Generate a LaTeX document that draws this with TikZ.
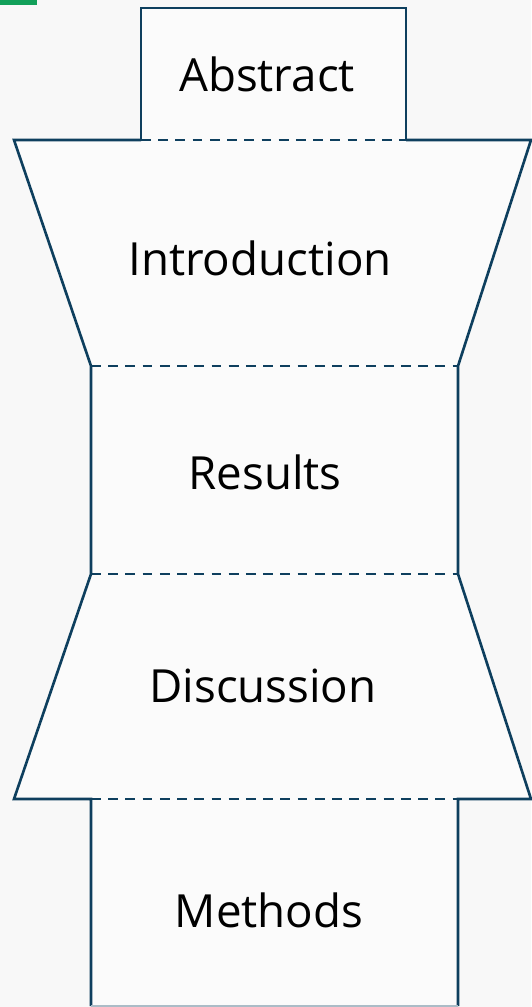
\documentclass[tikz,border=0pt]{standalone}
\usepackage{fontspec}
\setmainfont{Open Sans}
\definecolor{edgeblue}{HTML}{0E3F5E}
\definecolor{pagegray}{HTML}{F8F8F8}
\definecolor{partfill}{HTML}{FBFBFB}
\definecolor{tabgreen}{HTML}{12A05A}
\tikzset{
  outline/.style={draw=edgeblue, line width=1.5pt, line join=miter},
  divider/.style={draw=edgeblue, line width=1.3pt, dash pattern=on 5.6pt off 4.2pt},
  partlabel/.style={font=\fontsize{26}{30}\selectfont, text=black, inner sep=0pt},
}

\begin{document}
\begin{tikzpicture}[x=0.02cm, y=-0.02cm]
    % page
    \fill[pagegray] (0,0) rectangle (531,1007);
    \useasboundingbox (0,0) rectangle (531,1007);
    \fill[tabgreen] (0,0) rectangle (37,5);
    % corners of the outline
    \coordinate (abs-tl) at (141,8);
    \coordinate (abs-tr) at (406,8);
    \coordinate (abs-bl) at (141,140);
    \coordinate (abs-br) at (406,140);
    \coordinate (int-tl) at (14,140);
    \coordinate (int-tr) at (531,140);
    \coordinate (res-tl) at (91,366);
    \coordinate (res-tr) at (458,366);
    \coordinate (dis-tl) at (91,574);
    \coordinate (dis-tr) at (458,574);
    \coordinate (dis-bl) at (14,799);
    \coordinate (dis-br) at (531,799);
    \coordinate (met-tl) at (91,799);
    \coordinate (met-tr) at (458,799);
    \coordinate (met-bl) at (91,1006);
    \coordinate (met-br) at (458,1006);
    % filled parts
    \fill[partfill] (abs-bl) -- (abs-tl) -- (abs-tr) -- (abs-br) -- cycle;
    \fill[partfill] (int-tl) -- (int-tr) -- (res-tr) -- (res-tl) -- cycle;
    \fill[partfill] (res-tl) rectangle (dis-tr);
    \fill[partfill] (dis-tl) -- (dis-tr) -- (dis-br) -- (dis-bl) -- cycle;
    \fill[partfill] (met-tl) rectangle (met-br);
    % solid outline
    \draw[outline] (abs-bl) -- (abs-tl) -- (abs-tr) -- (abs-br);
    \draw[outline] (abs-bl) -- (int-tl) -- (res-tl) -- (dis-tl) -- (dis-bl) -- (met-tl) -- (met-bl);
    \draw[outline] (abs-br) -- (int-tr) -- (res-tr) -- (dis-tr) -- (dis-br) -- (met-tr) -- (met-br);
    \draw[draw=edgeblue!35, line width=0.6pt] (met-bl) -- (met-br);
    % dashed dividers
    \draw[divider] (abs-bl) -- (abs-br);
    \draw[divider] (res-tl) -- (res-tr);
    \draw[divider] (dis-tl) -- (dis-tr);
    \draw[divider] (met-tl) -- (met-tr);
    % labels
    \node[partlabel] (abstract) at (267,74) {Abstract};
    \node[partlabel] (intro) at (260,258) {Introduction};
    \node[partlabel] (results) at (265,472) {Results};
    \node[partlabel] (discussion) at (263,686) {Discussion};
    \node[partlabel] (methods) at (269,910) {Methods};
\end{tikzpicture}
\end{document}
